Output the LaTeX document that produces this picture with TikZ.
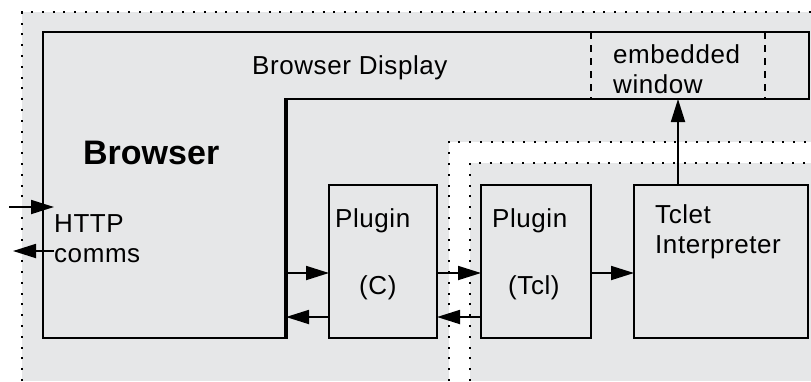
\documentclass[tikz,border=0pt]{standalone}
\usepackage{fontspec}
\setmainfont{Liberation Sans}[LetterSpace=2.2]
\usetikzlibrary{arrows.meta}
\definecolor{bg}{RGB}{230,231,232}
\begin{document}
\begin{tikzpicture}[x=1pt,y=-1pt,
  dotb/.style={line width=2pt, dash pattern=on 2pt off 8.8pt},
  box/.style={draw, line width=2pt, inner sep=0pt, outer sep=0pt, anchor=north west},
  arr/.style={line width=1.8pt,-{Triangle[length=23pt,width=14pt]}},
  lbl/.style={anchor=base west, inner sep=0pt, font=\fontsize{26}{30}\selectfont},
]
\useasboundingbox (0,0) rectangle (811,381);
% regions
\fill[bg] (22,12) rectangle (811,381);
\draw[dotb] (22,381) -- (22,12) -- (811,12);
\fill[white] (449,142) rectangle (811,381);
\draw[dotb] (449,381) -- (449,142) -- (811,142);
\fill[bg] (470,163) rectangle (811,381);
\draw[dotb] (470,381) -- (470,163) -- (811,163);
% browser outline
\draw[line width=2pt] (287,99) -- (809,99) -- (809,32) -- (43,32) -- (43,338) -- (287,338);
\draw[line width=3.6pt] (286,98) -- (286,339);
\coordinate (bre) at (286,273);
\coordinate (brl) at (286,317);
% embedded window
\node[anchor=north west, minimum width=174pt, minimum height=67pt, inner sep=0pt, outer sep=0pt] (ew) at (591,32) {};
\draw[line width=1.8pt, dashed, dash pattern=on 7pt off 6pt] (ew.north west) -- (ew.south west);
\draw[line width=1.8pt, dashed, dash pattern=on 7pt off 6pt] (ew.north east) -- (ew.south east);
% boxes
\node[box, minimum width=108pt, minimum height=153pt] (pc) at (329,185) {};
\node[box, minimum width=110pt, minimum height=153pt] (pt) at (481,185) {};
\node[box, minimum width=174pt, minimum height=153pt] (ti) at (634,185) {};
% texts
\node[lbl] (tbd) at (252,74) {Browser Display};
\node[lbl] (tem) at (613,63) {embedded};
\node[lbl] (twi) at (613,93) {window};
\node[lbl, font=\fontsize{34}{38}\selectfont\bfseries\addfontfeatures{LetterSpace=0}] (tbr) at (83,164) {Browser};
\node[lbl] (tht) at (54,232) {HTTP};
\node[lbl] (tco) at (54,262) {comms};
\node[lbl] (tp1) at (335,227) {Plugin};
\node[lbl] (tc) at (359,294) {(C)};
\node[lbl] (tp2) at (492,227) {Plugin};
\node[lbl] (ttc) at (508,294) {(Tcl)};
\node[lbl] (tt1) at (655,223) {Tclet};
\node[lbl] (tt2) at (655,253) {Interpreter};
% http arrows
\coordinate (hin) at (9,207);
\coordinate (hout) at (13,251);
\draw[arr] (hin) -- (tht.west |- hin);
\draw[arr] (tco.west |- hout) -- (hout);
% plugin arrows
\draw[arr] (bre) -- (pc.west |- bre);
\draw[arr] (pc.west |- brl) -- (brl);
\draw[arr] (pc.east |- bre) -- (pt.west |- bre);
\draw[arr] (pt.west |- brl) -- (pc.east |- brl);
\draw[arr] (pt.east |- bre) -- (ti.west |- bre);
\draw[arr] (ew.south |- ti.north) -- (ew.south);
\end{tikzpicture}
\end{document}
